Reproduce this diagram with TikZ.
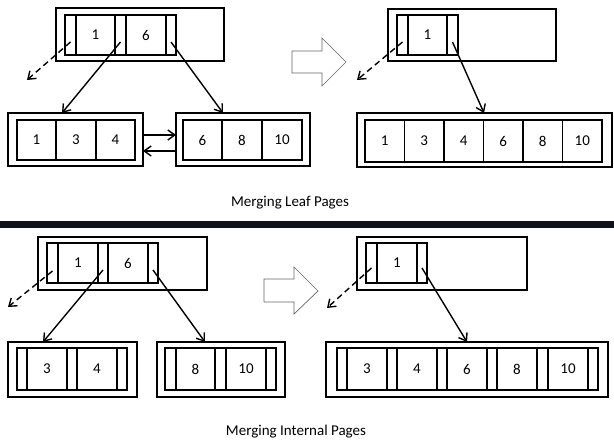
\documentclass[tikz,border=0pt]{standalone}
\usepackage{fontspec}
\setmainfont{Carlito}
\usetikzlibrary{arrows.meta}
\tikzset{
  cellbox/.style={draw, rectangle, inner sep=0pt, outer sep=0pt, line width=1.1pt, font=\fontsize{15}{17}\selectfont},
  outerbox/.style={draw, rectangle, inner sep=0pt, outer sep=0pt, line width=1.1pt},
  ptrarrow/.style={line width=1.4pt, -{Straight Barb[length=7pt,width=10pt,line width=1.4pt]}},
  dasharrow/.style={ptrarrow, dash pattern=on 6pt off 4pt},
  hollow/.style={draw=gray!80!black, line width=0.7pt, fill=white},
  captiontext/.style={font=\fontsize{15}{18}\selectfont},
}
% \rb{name}{x1}{y1}{x2}{y2}{style}{text}
\newcommand{\rb}[7]{\node[#6, minimum width={(#4-#2)*1pt}, minimum height={(#5-#3)*1pt}] (#1) at ({(#2+#4)/2},{(#3+#5)/2}) {#7};}
\begin{document}
\begin{tikzpicture}[x=1pt,y=-1pt]
\useasboundingbox (0,0) rectangle (614,441);

% ===================== Top: Merging Leaf Pages =====================
\rb{tlo}{56}{8}{224}{61}{outerbox}{}
\rb{tlp1}{65}{15}{76}{55}{cellbox}{}
\rb{tlk1}{76}{15}{115}{55}{cellbox}{1}
\rb{tlp2}{115}{15}{126}{55}{cellbox}{}
\rb{tlk2}{126}{15}{166}{55}{cellbox}{6}
\rb{tlp3}{166}{15}{176}{55}{cellbox}{}

\rb{llo}{8}{113}{143}{166}{outerbox}{}
\rb{llc1}{17}{120}{56}{160}{cellbox}{1}
\rb{llc2}{56}{120}{96}{160}{cellbox}{3}
\rb{llc3}{96}{120}{135}{160}{cellbox}{4}

\rb{lro}{176}{113}{310}{166}{outerbox}{}
\rb{lrc1}{183}{120}{222}{160}{cellbox}{6}
\rb{lrc2}{222}{120}{262}{160}{cellbox}{8}
\rb{lrc3}{262}{120}{302}{160}{cellbox}{10}

\coordinate (tlfree) at (27,80);
\draw[dasharrow] ([shift={(0,-7pt)}]tlp1.center) -- (tlfree);
\draw[ptrarrow] ([shift={(0,-7pt)}]tlp2.center) -- ([xshift=-13.5pt]llo.north);
\draw[ptrarrow] ([shift={(0,-7pt)}]tlp3.center) -- ([xshift=-20pt]lro.north);
\draw[ptrarrow] ([yshift=4.5pt]llo.east) -- ([yshift=4.5pt]lro.west);
\draw[ptrarrow] ([yshift=-11.5pt]lro.west) -- ([yshift=-11.5pt]llo.east);

\draw[hollow] (292,51) -- (322,51) -- (322,38) -- (346,62) -- (322,86) -- (322,73) -- (292,73) -- cycle;

\rb{tro}{388}{9}{556}{61}{outerbox}{}
\rb{trp1}{397}{15}{408}{55}{cellbox}{}
\rb{trk1}{408}{15}{447}{55}{cellbox}{1}
\rb{trp2}{447}{15}{458}{55}{cellbox}{}

\rb{mlo}{357}{113}{612}{167}{outerbox}{}
\rb{mlc1}{365}{120}{404.5}{162}{cellbox}{1}
\rb{mlc2}{404.5}{120}{444}{162}{cellbox}{3}
\rb{mlc3}{444}{120}{483.5}{162}{cellbox}{4}
\rb{mlc4}{483.5}{120}{523}{162}{cellbox}{6}
\rb{mlc5}{523}{120}{562.5}{162}{cellbox}{8}
\rb{mlc6}{562.5}{120}{602}{162}{cellbox}{10}

\coordinate (trfree) at (357,80);
\draw[dasharrow] ([shift={(0,-7pt)}]trp1.center) -- (trfree);
\draw[ptrarrow] ([shift={(0,-7pt)}]trp2.center) -- ([xshift=-0.5pt]mlo.north);

\node[captiontext] (cap1) at (290,203) {Merging Leaf Pages};

\fill[fill={rgb,255:red,17;green,19;blue,28}] (0,221) rectangle (614,228);

% ===================== Bottom: Merging Internal Pages =====================
\rb{blo}{38}{237}{207}{290}{outerbox}{}
\rb{blp1}{47}{243}{58}{283}{cellbox}{}
\rb{blk1}{58}{243}{98}{283}{cellbox}{1}
\rb{blp2}{98}{243}{108}{283}{cellbox}{}
\rb{blk2}{108}{243}{148}{283}{cellbox}{6}
\rb{blp3}{148}{243}{158}{283}{cellbox}{}

\rb{ilo}{8}{342}{137}{397}{outerbox}{}
\rb{ilp1}{17}{348}{27}{390}{cellbox}{}
\rb{ilk1}{27}{348}{67}{390}{cellbox}{3}
\rb{ilp2}{67}{348}{77}{390}{cellbox}{}
\rb{ilk2}{77}{348}{117}{390}{cellbox}{4}
\rb{ilp3}{117}{348}{127}{390}{cellbox}{}

\rb{iro}{157}{342}{285}{397}{outerbox}{}
\rb{irp1}{165}{348}{176}{390}{cellbox}{}
\rb{irk1}{176}{348}{215}{390}{cellbox}{8}
\rb{irp2}{215}{348}{226}{390}{cellbox}{}
\rb{irk2}{226}{348}{266}{390}{cellbox}{10}
\rb{irp3}{266}{348}{276}{390}{cellbox}{}

\coordinate (blfree) at (8,307);
\draw[dasharrow] ([shift={(0,-8pt)}]blp1.center) -- (blfree);
\draw[ptrarrow] ([shift={(0,-7pt)}]blp2.center) -- ([xshift=-29.5pt]ilo.north);
\draw[ptrarrow] ([shift={(0,-7pt)}]blp3.center) -- ([xshift=-16pt]iro.north);

\draw[hollow] (264,279) -- (294,279) -- (294,267) -- (318,291) -- (294,314) -- (294,302) -- (264,302) -- cycle;

\rb{bro}{357}{237}{527}{290}{outerbox}{}
\rb{brp1}{366}{243}{377}{283}{cellbox}{}
\rb{brk1}{377}{243}{417}{283}{cellbox}{1}
\rb{brp2}{417}{243}{427}{283}{cellbox}{}

\rb{mio}{326}{342}{608}{397}{outerbox}{}
\rb{mip1}{337}{348}{347}{390}{cellbox}{}
\rb{mik1}{347}{348}{387}{390}{cellbox}{3}
\rb{mip2}{387}{348}{397}{390}{cellbox}{}
\rb{mik2}{397}{348}{437}{390}{cellbox}{4}
\rb{mip3}{437}{348}{447}{390}{cellbox}{}
\rb{mik3}{447}{348}{487}{390}{cellbox}{6}
\rb{mip4}{487}{348}{497}{390}{cellbox}{}
\rb{mik4}{497}{348}{537}{390}{cellbox}{8}
\rb{mip5}{537}{348}{548}{390}{cellbox}{}
\rb{mik5}{548}{348}{588}{390}{cellbox}{10}
\rb{mip6}{588}{348}{598}{390}{cellbox}{}

\coordinate (brfree) at (327,308);
\draw[dasharrow] ([shift={(0,-5pt)}]brp1.center) -- (brfree);
\draw[ptrarrow] ([shift={(0,-5pt)}]brp2.center) -- (mio.north);

\node[captiontext] (cap2) at (296,432) {Merging Internal Pages};
\end{tikzpicture}
\end{document}
